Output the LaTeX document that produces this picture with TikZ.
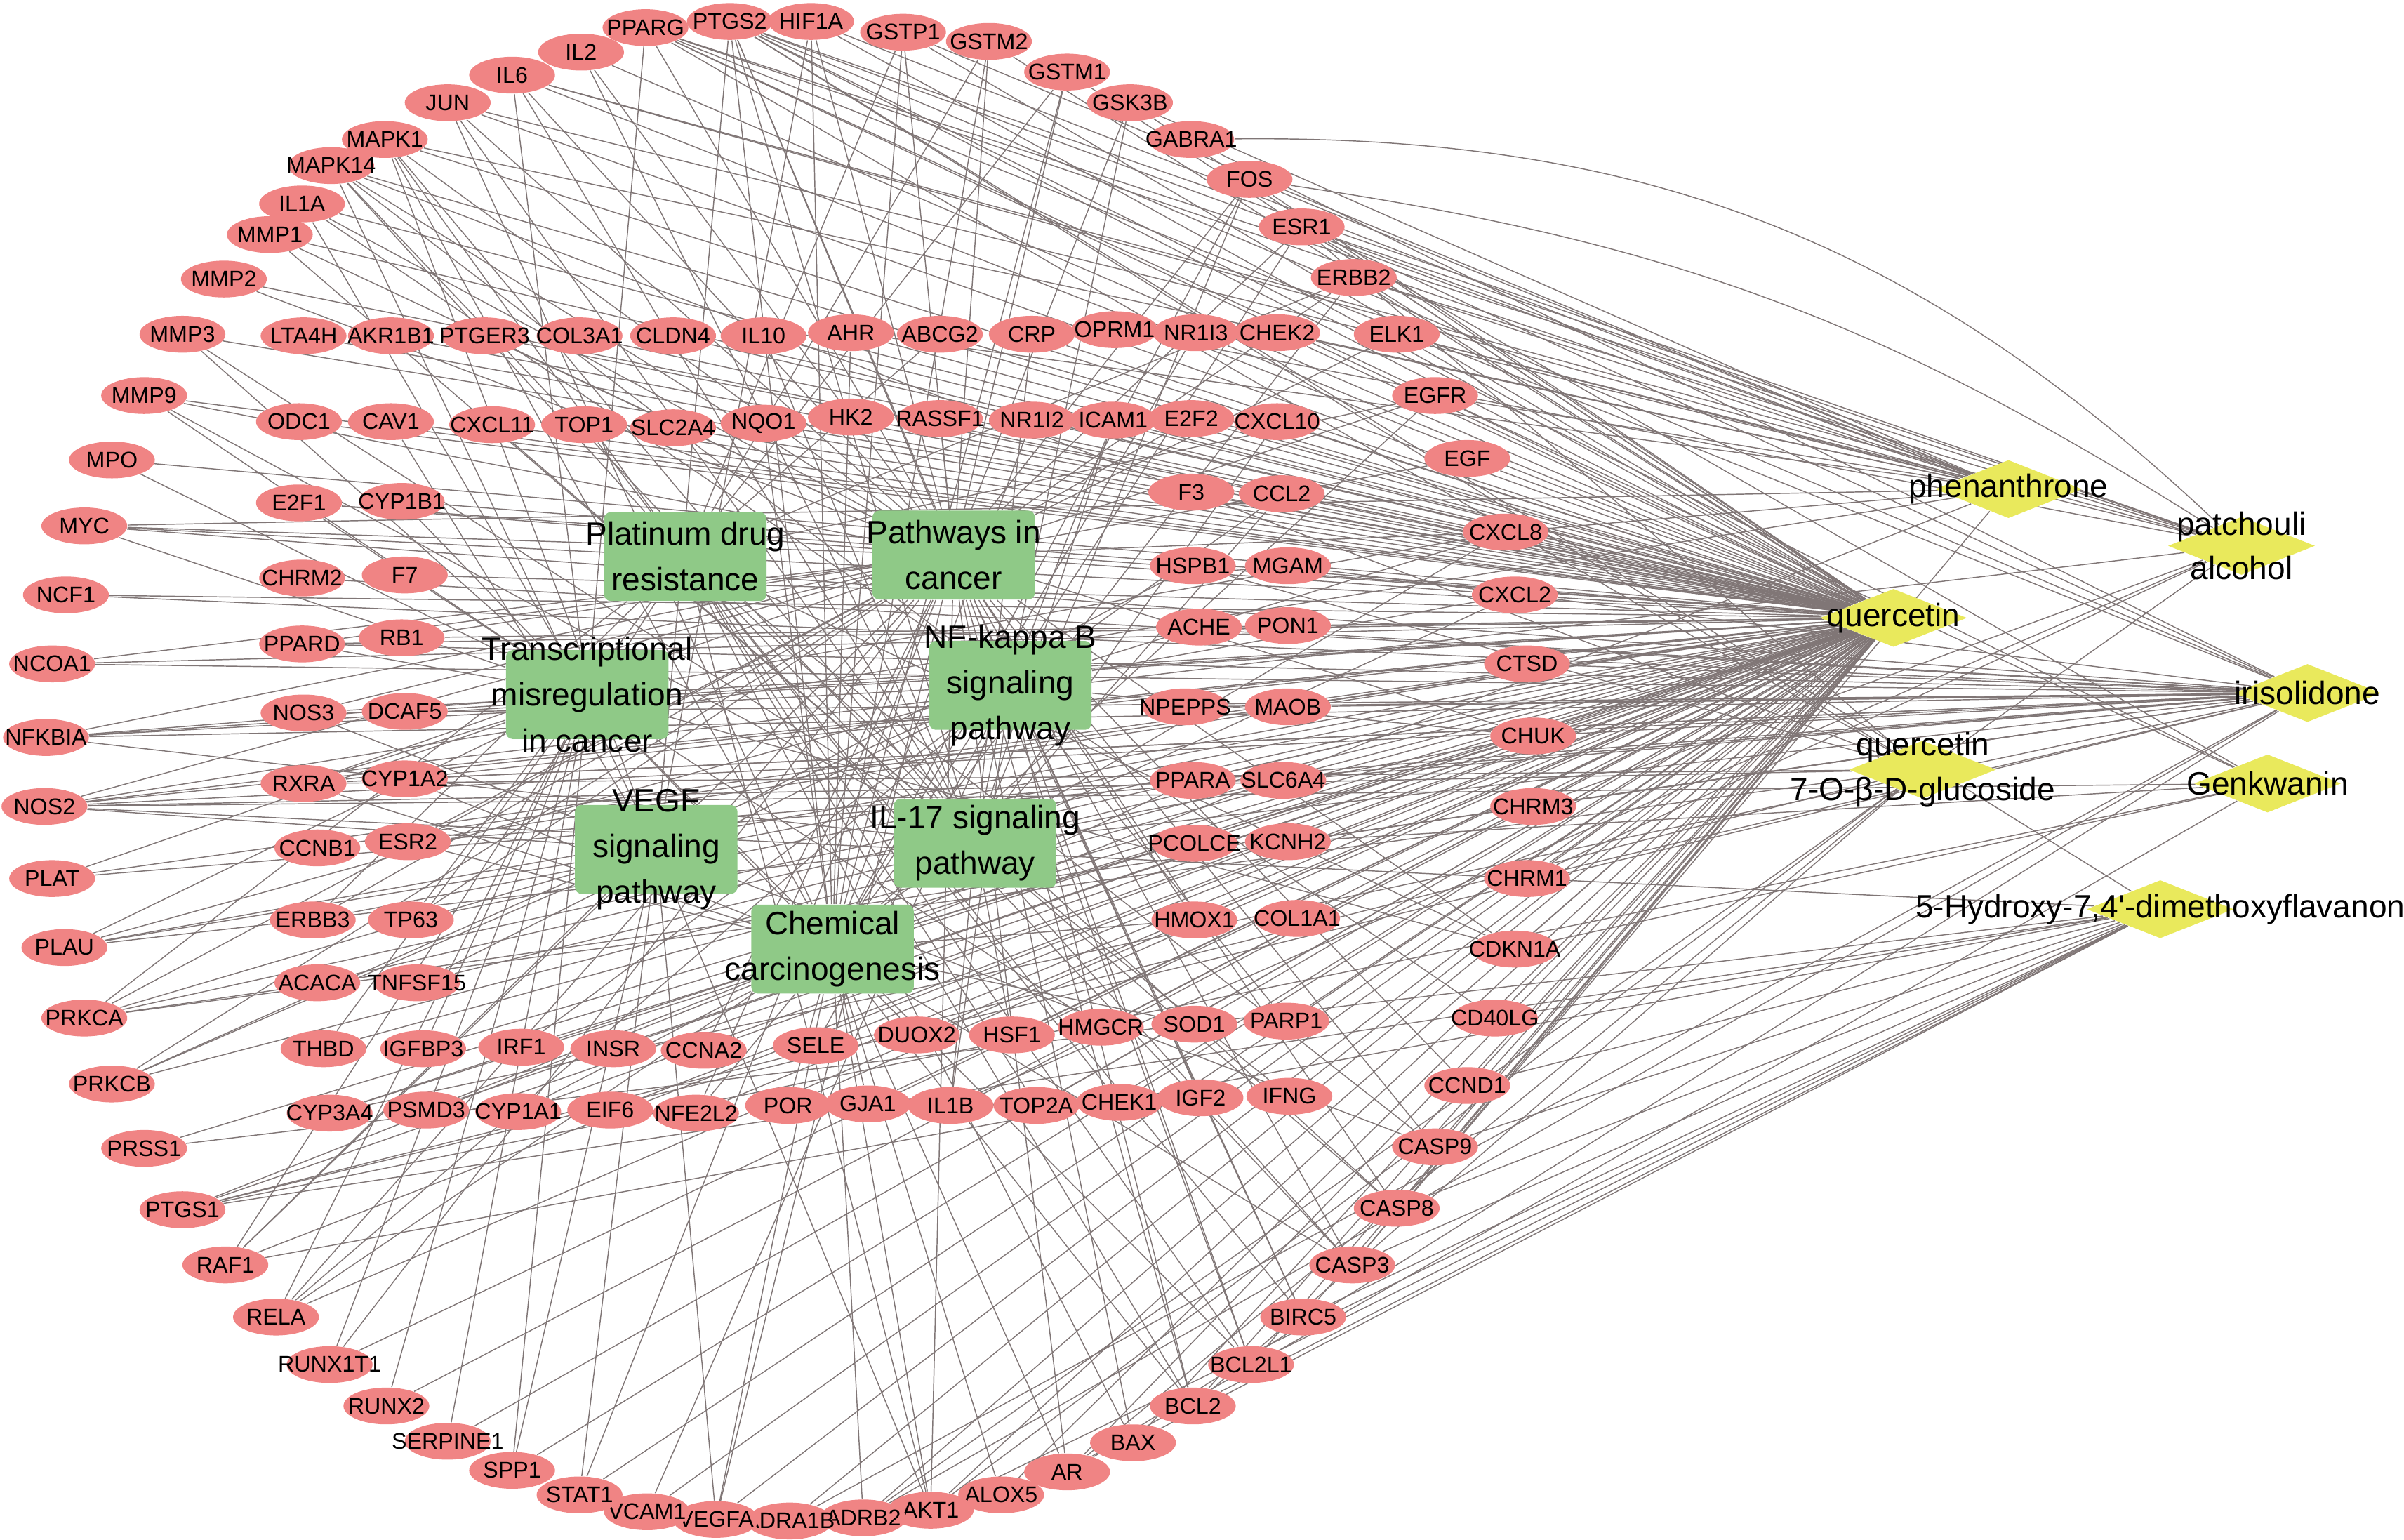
\documentclass[tikz,border=0pt]{standalone}
\usepackage{fontspec}
\newfontfamily\netfont{Liberation Sans}
\usetikzlibrary{shapes.geometric,backgrounds}
\definecolor{GeneRed}{RGB}{240,132,132}
\definecolor{PathGreen}{RGB}{143,201,135}
\definecolor{CmpdYellow}{RGB}{233,233,92}
\definecolor{EdgeGrey}{RGB}{128,118,118}
\tikzset{
  gene/.style={ellipse,fill=GeneRed,minimum width=1.12cm,minimum height=0.48cm,inner sep=0pt},
  genetxt/.style={font=\netfont\fontsize{8.4}{10}\selectfont,inner sep=0pt},
  pathbox/.style={rectangle,rounded corners=2.5pt,fill=PathGreen,minimum width=2.12cm,minimum height=1.16cm,inner sep=0pt},
  pathtxt/.style={font=\netfont\fontsize{12}{17}\selectfont,align=center,inner sep=0pt},
  cmpd/.style={diamond,fill=CmpdYellow,minimum width=1.92cm,minimum height=0.76cm,inner sep=0pt},
  cmpdtxt/.style={font=\netfont\fontsize{12}{16.5}\selectfont,align=center,inner sep=0pt},
  edge/.style={draw=EdgeGrey,line width=0.38pt},
}
\begin{document}
\begin{tikzpicture}[x=0.02cm,y=-0.02cm]
    \useasboundingbox (0,0) rectangle (1568,1004);
    % compounds
    \node[cmpd,label={[cmpdtxt]center:phenanthrone}] (phen) at (1310,319) {};
    \node[cmpd,label={[cmpdtxt]center:{patchouli\\alcohol}}] (patch) at (1462,356) {};
    \node[cmpd,label={[cmpdtxt]center:quercetin}] (quer) at (1235,403) {};
    \node[cmpd,label={[cmpdtxt]center:irisolidone}] (iris) at (1505,452) {};
    \node[cmpd,label={[cmpdtxt]center:{quercetin\\7-O-β-D-glucoside}}] (qglu) at (1254,502) {};
    \node[cmpd,label={[cmpdtxt]center:Genkwanin}] (genk) at (1479,511) {};
    \node[cmpd,label={[cmpdtxt]center:{5-Hydroxy-7,4'-dimethoxyflavanon}}] (hdmf) at (1409,593) {};
    % pathways
    \node[pathbox,label={[pathtxt]center:{Platinum drug\\resistance}}] (plat) at (447,363) {};
    \node[pathbox,label={[pathtxt]center:{Pathways in\\cancer}}] (cancer) at (622,362) {};
    \node[pathbox,label={[pathtxt]center:{Transcriptional\\misregulation\\in cancer}}] (transc) at (383,453) {};
    \node[pathbox,label={[pathtxt]center:{NF-kappa B\\signaling\\pathway}}] (nfkb) at (659,447) {};
    \node[pathbox,label={[pathtxt]center:{VEGF\\signaling\\pathway}}] (vegf) at (428,554) {};
    \node[pathbox,label={[pathtxt]center:{IL-17 signaling\\pathway}}] (il17) at (636,550) {};
    \node[pathbox,label={[pathtxt]center:{Chemical\\carcinogenesis}}] (chem) at (543,619) {};
    % outer ring of targets
    \foreach \n/\x/\y in {PPARG/421/18,PTGS2/476/14,HIF1A/529/14,GSTP1/589/21,GSTM2/645/27,
        GSTM1/696/47,GSK3B/737/67,GABRA1/777/91,FOS/815/117,ESR1/849/148,ERBB2/883/181,
        ELK1/911/218,EGFR/936/258,EGF/957/299,CXCL8/982/347,CXCL2/988/388,CTSD/996/433,
        CHUK/1000/480,CHRM3/1000/526,CHRM1/996/573,CDKN1A/988/619,CD40LG/975/664,
        CCND1/957/708,CASP9/936/748,CASP8/911/788,CASP3/882/825,BIRC5/850/859,
        BCL2L1/816/890,BCL2/778/917,BAX/739/941,AR/696/960,ALOX5/653/975,AKT1/607/985,
        ADRB2/563/990,ADRA1B/515/992,VEGFA/467/991,VCAM1/422/986,STAT1/378/975,
        SPP1/334/959,SERPINE1/292/940,RUNX2/252/917,RUNX1T1/215/890,RELA/180/859,
        RAF1/147/825,PTGS1/119/789,PRSS1/94/749,PRKCB/73/707,PRKCA/55/664,PLAU/42/618,
        PLAT/34/573,NOS2/29/526,NFKBIA/30/481,NCOA1/34/433,NCF1/43/388,MYC/55/343,
        MPO/73/300,MMP9/94/258,MMP3/119/218,MMP2/146/182,MMP1/176/153,IL1A/197/133,
        MAPK14/216/108,MAPK1/251/91,JUN/292/67,IL6/334/49,IL2/379/34}
        \node[gene,label={[genetxt]center:\n}] (\n) at (\x,\y) {};
    % inner ring of targets
    \foreach \n/\x/\y in {LTA4H/198/219,AKR1B1/255/219,PTGER3/316/219,COL3A1/378/219,
        CLDN4/439/219,IL10/498/219,AHR/555/217,ABCG2/613/218,CRP/673/218,OPRM1/727/215,
        NR1I3/780/217,CHEK2/833/217,
        ODC1/195/275,CAV1/255/275,CXCL11/321/277,TOP1/381/277,SLC2A4/439/279,
        NQO1/498/276,HK2/555/272,RASSF1/613/273,NR1I2/673/274,ICAM1/726/274,
        E2F2/777/273,CXCL10/833/275,
        E2F1/195/328,CYP1B1/262/327,CHRM2/197/377,F7/264/375,PPARD/197/420,RB1/262/416,
        NOS3/198/465,DCAF5/264/464,RXRA/198/511,CYP1A2/264/508,CCNB1/207/553,
        ESR2/266/549,ERBB3/204/600,TP63/268/600,ACACA/207/641,TNFSF15/272/641,
        F3/777/321,CCL2/836/322,HSPB1/778/369,MGAM/840/369,ACHE/782/409,PON1/840/408,
        NPEPPS/773/461,MAOB/840/461,PPARA/778/509,SLC6A4/837/509,PCOLCE/779/550,
        KCNH2/840/549,HMOX1/779/600,COL1A1/846/599,
        THBD/211/684,IGFBP3/276/684,IRF1/340/683,INSR/400/684,CCNA2/459/685,
        SELE/532/682,DUOX2/598/675,HSF1/660/675,HMGCR/718/670,SOD1/779/668,
        PARP1/839/666,
        CYP3A4/215/726,PSMD3/278/724,CYP1A1/338/725,EIF6/398/724,NFE2L2/454/726,
        POR/514/721,GJA1/566/720,IL1B/620/721,TOP2A/676/721,CHEK1/730/719,
        IGF2/783/716,IFNG/841/715}
        \node[gene,label={[genetxt]center:\n}] (\n) at (\x,\y) {};
    \begin{scope}[on background layer]
        % quercetin targets
        \foreach \g in {PPARG,PTGS2,HIF1A,GSTP1,GSTM2,GSTM1,GSK3B,FOS,ESR1,ERBB2,ELK1,EGFR,
            EGF,CXCL8,CXCL2,CTSD,CHUK,CHRM1,CDKN1A,CD40LG,CCND1,CASP9,CASP8,CASP3,BIRC5,
            BCL2L1,BCL2,BAX,AR,ALOX5,AKT1,ADRB2,ADRA1B,VEGFA,VCAM1,STAT1,SPP1,SERPINE1,
            RUNX2,RUNX1T1,RELA,RAF1,PTGS1,PRSS1,PRKCB,PRKCA,PLAU,PLAT,NOS2,NFKBIA,NCOA1,
            NCF1,MYC,MPO,MMP9,MMP3,MMP2,MMP1,IL1A,MAPK14,MAPK1,JUN,IL6,IL2,
            LTA4H,AKR1B1,PTGER3,COL3A1,CLDN4,IL10,AHR,ABCG2,CRP,NR1I3,CHEK2,ODC1,CAV1,
            CXCL11,TOP1,SLC2A4,NQO1,HK2,RASSF1,NR1I2,ICAM1,E2F2,CXCL10,E2F1,CYP1B1,F7,
            PPARD,RB1,NOS3,DCAF5,RXRA,CYP1A2,CCNB1,ESR2,ERBB3,TP63,ACACA,TNFSF15,F3,CCL2,
            HSPB1,ACHE,PON1,MAOB,PPARA,PCOLCE,HMOX1,COL1A1,THBD,IGFBP3,IRF1,INSR,CCNA2,
            SELE,DUOX2,HSF1,HMGCR,SOD1,PARP1,CYP3A4,PSMD3,CYP1A1,EIF6,NFE2L2,POR,GJA1,
            IL1B,TOP2A,CHEK1,IGF2,IFNG}
            \draw[edge] (\g) -- (quer);
        % other compounds
        \foreach \g in {FOS,ESR1,ERBB2,EGFR,PTGS2,HIF1A,GSTP1,CHEK2,ELK1,CXCL8,IL6,MYC,AHR,
            PPARG,CASP3,NOS2,PTGS1,GSK3B,MAPK1,JUN}
            \draw[edge] (\g) -- (phen);
        \foreach \g in {ESR1,ERBB2,ELK1,CHRM3,PTGS2,NOS2,IL1B,PPARG,ADRB2,OPRM1,CHRM1,IL6}
            \draw[edge] (\g) -- (patch);
        \draw[edge] (GABRA1) to[bend left=22] (patch);
        \draw[edge] (FOS) to[bend left=12] (patch);
        \foreach \g in {MYC,NCF1,NCOA1,NFKBIA,NOS2,PLAT,PLAU,PRKCA,PTGS1,PTGS2,ESR1,ESR2,AR,
            CHRM1,CHRM2,CHRM3,NOS3,PPARG,PPARD,RXRA,CYP1A2,CYP3A4,ACHE,MAOB,SLC6A4,KCNH2,
            MGAM,NPEPPS,ADRB2,ADRA1B,GABRA1,CTSD,CHUK}
            \draw[edge] (\g) -- (iris);
        \foreach \g in {PTGS2,PTGS1,ESR1,AR,NOS2,PPARG,HSPB1,PRKCA,RXRA,MAPK14,AKT1,BCL2}
            \draw[edge] (\g) -- (qglu);
        \foreach \g in {PTGS2,PTGS1,NOS2,ESR1,AR,PPARG,KCNH2,CDKN1A}
            \draw[edge] (\g) -- (genk);
        \foreach \g in {CASP3,CASP8,CASP9,BIRC5,BCL2,BAX,PTGS1,PTGS2,NOS2,PRSS1,RAF1,CCND1,
            CD40LG,BCL2L1,AKT1}
            \draw[edge] (\g) -- (hdmf);
        % pathways
        \foreach \g in {PPARG,PTGS2,HIF1A,GSTP1,GSTM2,GSTM1,GSK3B,FOS,ERBB2,ELK1,EGFR,EGF,
            CXCL8,CHUK,CDKN1A,CCND1,CASP9,CASP8,CASP3,BIRC5,BCL2L1,BCL2,BAX,AR,AKT1,VEGFA,
            STAT1,RUNX1T1,RELA,RAF1,PRKCB,PRKCA,NOS2,NFKBIA,NCOA1,MYC,MMP9,MMP2,MMP1,MAPK1,
            JUN,IL6,IL2,E2F1,E2F2,RB1,RXRA,HMOX1,NFE2L2,PTGER3,RASSF1,ESR1,IL1A,MAPK14,
            CCNA2,IGF2,CXCL2,PPARD,ESR2,ERBB3,TP63,NOS3}
            \draw[edge] (\g) -- (cancer);
        \foreach \g in {GSTP1,GSTM2,GSTM1,ERBB2,ERBB3,CDKN1A,CASP9,CASP8,CASP3,BIRC5,BCL2L1,
            BCL2,BAX,AKT1,RAF1,MAPK1,TOP2A,TP63,MAPK14,ABCG2,TOP1,CHEK1,PRKCA,EGFR}
            \draw[edge] (\g) -- (plat);
        \foreach \g in {PPARG,MYC,RUNX1T1,RUNX2,PLAU,PLAT,CDKN1A,IGFBP3,MMP9,MMP3,BCL2L1,
            RXRA,SPP1,IL6,CXCL8,PPARD,MPO,RELA,NFKBIA,IL1A,SERPINE1,THBD,E2F1,HMGCR}
            \draw[edge] (\g) -- (transc);
        \foreach \g in {PTGS2,CXCL8,CXCL2,CHUK,CD40LG,BCL2L1,BCL2,RELA,NFKBIA,PRKCB,PLAU,
            IL1B,ICAM1,VCAM1,PARP1,BIRC5,MAPK14,IL1A,CCL2,TNFSF15,SELE,IRF1}
            \draw[edge] (\g) -- (nfkb);
        \foreach \g in {PTGS2,NOS3,MAPK1,MAPK14,PRKCA,PRKCB,AKT1,RAF1,CASP9,VEGFA,HSPB1,
            HIF1A,NOS2,PLAU,CAV1,SPP1,STAT1}
            \draw[edge] (\g) -- (vegf);
        \foreach \g in {PTGS2,GSK3B,FOS,CXCL8,CXCL2,CXCL10,CCL2,CASP8,CASP3,CHUK,RELA,NFKBIA,
            JUN,MAPK1,MAPK14,IL6,IL1B,MMP9,MMP3,MMP1,IFNG,CXCL11,IL2,HSF1,ICAM1,IL10,CRP}
            \draw[edge] (\g) -- (il17);
        \foreach \g in {CYP1A1,CYP1A2,CYP1B1,CYP3A4,GSTP1,GSTM1,GSTM2,AHR,ESR1,ESR2,AR,PPARA,
            RXRA,NR1I2,NR1I3,EGFR,ERBB2,AKT1,MAPK1,NFE2L2,HMOX1,NQO1,POR,SOD1,DUOX2,HIF1A,
            VEGFA,JUN,FOS,BCL2,CASP3,PTGS2,CHUK,ADRB2,ALOX5,PSMD3,GJA1}
            \draw[edge] (\g) -- (chem);
    \end{scope}
\end{tikzpicture}
\end{document}
